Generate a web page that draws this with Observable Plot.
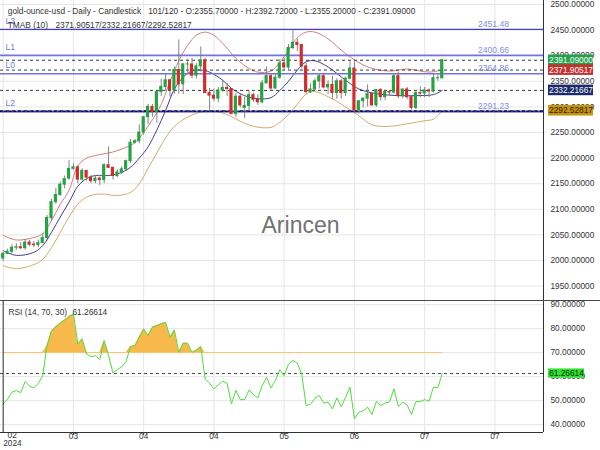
<!DOCTYPE html>
<html>
<head>
<meta charset="utf-8">
<script src="https://cdn.jsdelivr.net/npm/d3@7"></script>
<script src="https://cdn.jsdelivr.net/npm/@observablehq/plot@0.6"></script>
<style>
html,body{margin:0;padding:0;background:#fff;}
#chart{position:relative;width:600px;height:450px;overflow:hidden;}
#chart svg{display:block;}
.sep{position:absolute;left:0;top:300px;width:600px;height:1px;background:#4a4a4a;}
</style>
</head>
<body>
<div id="chart"></div>
<script>
// ---------- DATA ----------
const opens  = [2004,2013,2017,2025,2026,2024,2035,2031,2030,2034,2044,2083,2114,2128,2148,2160,2179,2182,2158,2175,2162,2155,2160,2157,2186,2181,2165,2172,2178,2194,2230,2233,2250,2280,2300,2290,2329,2339,2352,2333,2372,2344,2383,2383,2361,2379,2391,2327,2322,2316,2332,2337,2335,2286,2320,2298,2302,2323,2314,2309,2346,2360,2336,2357,2385,2377,2415,2425,2421,2379,2329,2334,2350,2360,2338,2343,2327,2350,2327,2355,2375,2293,2311,2316,2325,2303,2333,2319,2329,2328,2360,2321,2334,2319,2298,2327,2326,2332,2330,2356,2355.7];
const highs  = [2016,2022,2031,2033,2035,2041,2039,2037,2040,2052,2088,2120,2141,2153,2165,2195,2189,2185,2179,2176,2166,2165,2163,2189,2222,2182,2177,2183,2196,2236,2236,2265,2281,2305,2305,2330,2354,2365,2354,2378,2431,2385,2393,2395,2385,2417,2395,2336,2335,2338,2352,2346,2336,2326,2326,2319,2331,2327,2324,2352,2378,2364,2365,2392,2395,2422,2450,2432,2422,2385,2345,2355,2364,2364,2351,2360,2355,2354,2358,2388,2388,2313,2318,2343,2326,2333,2336,2333,2332,2365,2368,2335,2338,2320,2330,2339,2338,2335,2364,2362,2392.72];
const lows   = [1998,2011,2013,2020,2021,2020,2027,2025,2025,2033,2038,2077,2110,2125,2140,2157,2176,2150,2155,2155,2150,2150,2146,2150,2180,2157,2162,2168,2174,2190,2228,2228,2245,2265,2280,2268,2320,2330,2319,2325,2325,2324,2366,2355,2354,2368,2327,2292,2310,2308,2328,2320,2285,2280,2298,2277,2291,2309,2303,2306,2345,2331,2334,2354,2371,2372,2412,2408,2374,2325,2326,2331,2335,2335,2324,2314,2315,2315,2320,2353,2287,2286,2298,2300,2301,2299,2311,2312,2322,2325,2316,2316,2314,2294,2295,2318,2318,2318,2327,2350,2355.2];
const closes = [2013,2017,2025,2026,2024,2035,2031,2030,2034,2044,2083,2114,2128,2148,2159,2179,2182,2158,2175,2162,2155,2160,2157,2186,2181,2165,2172,2178,2194,2230,2233,2250,2280,2300,2290,2329,2339,2352,2333,2372,2344,2383,2383,2361,2379,2391,2327,2322,2316,2332,2337,2335,2286,2320,2303,2302,2323,2314,2309,2346,2360,2336,2357,2385,2377,2415,2425,2421,2379,2329,2334,2350,2360,2338,2343,2327,2350,2327,2355,2375,2293,2311,2316,2325,2303,2333,2319,2329,2328,2360,2321,2334,2319,2298,2327,2326,2332,2330,2356,2356,2391.09];

// TMAB (10) bands (bar index -> value)
const upperIdx  = [0,3,7,9,11,13,15,17,19,21,25,28,30,32,34,36,38,40,42,44,46,48,50,53,56,58,61,63,65,67,69,71,74,78,83,88,92,97,100];
const upperVals = [2049,2040,2045,2052,2078,2110,2137,2185,2200,2205,2212,2221,2230,2250,2275,2305,2350,2390,2420,2440,2446,2440,2424,2395,2375,2368,2370,2387,2410,2435,2446,2446,2433,2404,2378,2370,2374,2368,2371.9];
const midIdx    = [0,3,7,9,11,13,15,17,19,21,24,27,29,31,33,35,37,39,41,43,45,47,50,52,55,58,61,63,65,67,69,71,74,78,81,85,90,94,98,100];
const midVals   = [2019,2010,2016,2029,2055,2085,2114,2145,2160,2166,2166,2172,2182,2200,2222,2255,2293,2335,2358,2370,2372,2368,2352,2336,2322,2316,2318,2332,2350,2372,2388,2390,2378,2352,2335,2326,2322,2322,2324,2332.2];
const lowIdx    = [0,3,7,9,11,13,15,17,19,22,26,29,31,33,35,37,39,42,45,48,51,54,57,61,63,65,67,69,71,74,78,81,84,88,92,96,98,100];
const lowVals   = [1990,1984,1992,2002,2025,2055,2085,2110,2124,2130,2127,2133,2150,2180,2210,2240,2262,2280,2290,2292,2285,2272,2262,2260,2270,2285,2305,2325,2330,2320,2300,2283,2265,2262,2267,2273,2276,2292.5];

// RSI (14), one value per bar
const rsiVals = [48.6,50.7,53.5,54.2,53.3,57.9,56,55.3,57.2,60.4,73,79,80.8,82.3,83.6,85,86.1,73.6,75.7,69.4,68.3,68.7,67.1,75,68.7,61.5,62.9,64.1,66.3,72.5,72.9,76.4,79.9,77.1,80.6,81.3,82,82.6,76.4,79.4,70.1,73.9,73.9,70.1,71,72.5,59,57.2,54.9,56.6,58.1,57.2,48.6,54.2,50.4,50.4,54.4,52.5,51.1,56.3,59.7,55.3,58.3,62.9,60.4,65.3,66.7,65.6,61,47.9,48.5,51,52.1,48.9,49.4,46.5,51.1,47.5,51.4,55.6,42.4,45.1,45.8,47.2,44.2,49.6,47.9,49,49.4,54.9,47.5,49.4,48.2,44.2,49.6,49.6,50.4,49.7,55.6,55.3,61.26614];

const levelNames  = ["L3","L1","L0","L2"];
const levelValues = [2451.48, 2400.66, 2364.86, 2291.23];
const lastValues  = [2391.09, 2371.90517, 2332.21667, 2292.52817];   // close, upper, mid, lower
const rsiLast = 61.26614;
const rsiLevel = 70;

const priceTicks = [1950,2000,2050,2100,2150,2200,2250,2300,2350,2400,2450,2500];
const rsiTicks   = [40,50,60,70,80,90];
const xTickIdx    = [0,16,32,48,64,80,96,112];
const xTickLabels = ["02","03","04","04","05","06","07","07"];
const yearLabel = "2024";

const titleLeft  = "gold-ounce-usd - Daily - Candlestick";
const titleRight = "101/120 - O:2355.70000 - H:2392.72000 - L:2355.20000 - C:2391.09000";
const tmabName = "TMAB (10)";
const tmabText = "2371.90517/2332.21667/2292.52817";
const rsiName = "RSI (14, 70, 30)";
const watermark = "Arincen";

// ---------- LAYOUT / STYLE ----------
const FONT = '"Liberation Sans", Arial, Helvetica, sans-serif';
const FS = 8.3;
const plotW = 543;
const xDom = [-0.615, 123.07];
const priceDom = [1921.9, 2507.8];
const rsiDom = [36.7, 91.7];
const xs = d3.scaleLinear().domain(xDom).range([0, plotW]);
const UP = "#25a244", DOWN = "#d42a2a", WICK = "#777";
const GRID = "#e6e6e6";
const LBL = "#6f80e4";

const bars = opens.map((o, i) => ({i, o, h: highs[i], l: lows[i], c: closes[i]}));
const pts = (idx, vals) => idx.map((i, k) => ({i, v: vals[k]}));
const levels = levelNames.map((n, k) => ({n, v: levelValues[k]}));
const boxColors = ["#22a04a", "#c3302e", "#1c2a6c", "#c9930f"];
const boxText   = ["#fff", "#fff", "#fff", "#2a2000"];
const boxes = lastValues.map((v, k) => ({v, k}));
const boxX1 = xs.invert(548), boxX2 = xs.invert(593), boxXm = xs.invert(570.5);
const halfPrice = 5.3 / (300 / (priceDom[1] - priceDom[0]));

const styleBase = {fontFamily: FONT, fontSize: FS + "px", color: "#333", background: "transparent", overflow: "visible"};

const main = Plot.plot({
  width: 600, height: 300,
  marginLeft: 0, marginRight: 57, marginTop: 0, marginBottom: 0,
  style: styleBase,
  x: {domain: xDom, axis: null, label: null},
  y: {domain: priceDom, axis: null, label: null},
  color: {type: "identity"},
  marks: [
    Plot.gridX(xTickIdx, {stroke: GRID, strokeOpacity: 1}),
    Plot.gridY(priceTicks, {stroke: GRID, strokeOpacity: 1}),
    // bands
    Plot.line(pts(upperIdx, upperVals), {x: "i", y: "v", stroke: "#c77373", strokeWidth: 0.9, curve: "catmull-rom"}),
    Plot.line(pts(lowIdx, lowVals), {x: "i", y: "v", stroke: "#cda458", strokeWidth: 0.9, curve: "catmull-rom"}),
    Plot.line(pts(midIdx, midVals), {x: "i", y: "v", stroke: "#2c2c7a", strokeWidth: 0.9, curve: "catmull-rom"}),
    // level lines
    Plot.ruleY([levels[0]], {y: "v", stroke: "#4343bd", strokeWidth: 1.1}),
    Plot.ruleY([levels[1], levels[2]], {y: "v", stroke: "#7474dc", strokeWidth: 1.6}),
    Plot.ruleY([levels[3]], {y: "v", stroke: "#3b3bc0", strokeWidth: 2}),
    Plot.ruleY([levels[3]], {y: "v", stroke: "#0d0d55", strokeWidth: 1.2, strokeDasharray: "2.5,2"}),
    // current-value dashed lines
    Plot.ruleY(lastValues, {stroke: "#222", strokeWidth: 0.9, strokeDasharray: "3,3"}),
    // candles
    Plot.ruleX(bars, {x: "i", y1: "l", y2: "h", stroke: WICK, strokeWidth: 0.9}),
    Plot.rect(bars, {x1: d => d.i - 0.36, x2: d => d.i + 0.36,
      y1: d => Math.min(d.o, d.c), y2: d => Math.max(d.o, d.c),
      fill: d => d.c >= d.o ? UP : DOWN, insetTop: -0.5, insetBottom: -0.5}),
    // level labels
    Plot.text(levels, {x: () => xDom[0], y: "v", text: "n", textAnchor: "start", dx: 5, dy: -8.5, fill: LBL, fontSize: 8.6}),
    Plot.text(levels, {x: () => xs.invert(493), y: "v", text: d => d.v.toFixed(2), textAnchor: "middle", dy: -5, fill: "#7d8ee8", fontSize: 8.6}),
    // watermark
    Plot.text([watermark], {frameAnchor: "top-left", dx: 300, dy: 216, textAnchor: "middle", fontSize: 23, fill: "#727272"}),
    // titles
    Plot.text([titleLeft], {frameAnchor: "top-left", dx: 7.3, dy: 7.5, textAnchor: "start", fill: "#333", fontSize: FS}),
    Plot.text([titleRight], {frameAnchor: "top-left", dx: 147.7, dy: 7.5, textAnchor: "start", fill: "#333", fontSize: FS}),
    Plot.text([tmabName], {frameAnchor: "top-left", dx: 7.3, dy: 22, textAnchor: "start", fill: "#333", fontSize: FS}),
    Plot.text([tmabText], {frameAnchor: "top-left", dx: 55, dy: 22, textAnchor: "start", fill: "#333", fontSize: FS}),
    // axis
    Plot.axisY(priceTicks, {anchor: "right", label: null, tickSize: 0, tickPadding: 7, tickFormat: d => d.toFixed(5), fill: "#333", fontSize: FS}),
    Plot.ruleX([xDom[1]], {stroke: "#333", strokeWidth: 1}),
    // value boxes
    Plot.rect(boxes, {x1: () => boxX1, x2: () => boxX2, y1: d => d.v - halfPrice, y2: d => d.v + halfPrice, fill: d => boxColors[d.k]}),
    Plot.text(boxes, {x: () => boxXm, y: "v", text: d => d.v.toFixed(5), fill: d => boxText[d.k], fontSize: FS, textAnchor: "middle"})
  ]
});

const rsiData = rsiVals.map((v, i) => ({i, v}));
const rsiHalf = 4.6 / (132 / (rsiDom[1] - rsiDom[0]));
const rsiPlot = Plot.plot({
  width: 600, height: 150,
  marginLeft: 0, marginRight: 57, marginTop: 0, marginBottom: 18,
  style: styleBase,
  x: {domain: xDom, axis: null, label: null},
  y: {domain: rsiDom, axis: null, label: null},
  marks: [
    Plot.gridX(xTickIdx, {stroke: GRID, strokeOpacity: 1}),
    Plot.gridY(rsiTicks, {stroke: GRID, strokeOpacity: 1}),
    Plot.areaY(rsiData, {x: "i", y1: () => rsiLevel, y2: d => Math.max(d.v, rsiLevel), fill: "#f7b84c"}),
    Plot.ruleY([rsiLevel], {x1: () => 0, x2: () => rsiVals.length - 1, stroke: "#f6c36c", strokeWidth: 1}),
    Plot.ruleY([rsiLast], {stroke: "#333", strokeWidth: 0.9, strokeDasharray: "3,3"}),
    Plot.line(rsiData, {x: "i", y: "v", stroke: "#4fdc3c", strokeWidth: 1}),
    Plot.text([rsiName], {frameAnchor: "top-left", dx: 8, dy: 9, textAnchor: "start", fill: "#333", fontSize: FS}),
    Plot.text([rsiLast.toFixed(5)], {frameAnchor: "top-left", dx: 72, dy: 9, textAnchor: "start", fill: "#333", fontSize: FS}),
    Plot.axisY(rsiTicks, {anchor: "right", label: null, tickSize: 0, tickPadding: 7, tickFormat: d => d.toFixed(5), fill: "#333", fontSize: FS}),
    Plot.axisX(xTickIdx.slice(1), {anchor: "bottom", label: null, tickSize: 3, tickPadding: -2, tickFormat: d => xTickLabels[xTickIdx.indexOf(d)], fill: "#333", fontSize: FS, stroke: "#333"}),
    Plot.tickX([xTickIdx[0]], {frameAnchor: "bottom", stroke: "#333", dy: 0}),
    Plot.text([xTickIdx[0]], {x: d => d, frameAnchor: "bottom", text: d => xTickLabels[0], dx: 9, dy: 5, fill: "#333", fontSize: FS}),
    Plot.text([xTickIdx[0]], {x: d => d, frameAnchor: "bottom", text: () => yearLabel, textAnchor: "start", dx: 0, dy: 13.5, fill: "#333", fontSize: FS}),
    Plot.ruleX([xDom[1]], {stroke: "#333", strokeWidth: 1}),
    Plot.ruleY([rsiDom[0]], {stroke: "#333", strokeWidth: 1}),
    Plot.rect([rsiLast], {x1: () => xs.invert(548), x2: () => xs.invert(584), y1: d => d - rsiHalf, y2: d => d + rsiHalf, fill: "#2fe22f"}),
    Plot.text([rsiLast], {x: () => xs.invert(566), y: d => d, text: d => d.toFixed(5), fill: "#0b300b", fontSize: FS})
  ]
});

const chart = document.getElementById("chart");
chart.appendChild(main);
chart.appendChild(rsiPlot);
const sep = document.createElement("div");
sep.className = "sep";
chart.appendChild(sep);
</script>
</body>
</html>
